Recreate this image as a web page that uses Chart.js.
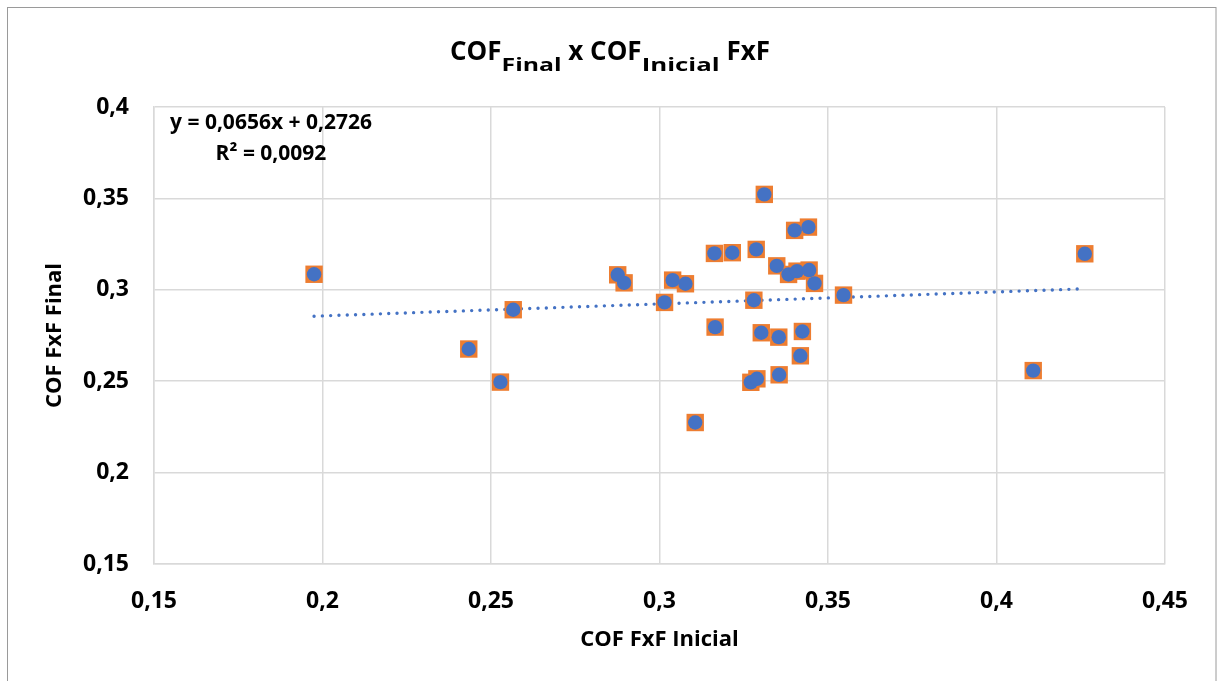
<!DOCTYPE html>
<html>
<head>
<meta charset="utf-8">
<script src="https://cdn.jsdelivr.net/npm/chart.js@4"></script>
<style>
  html, body { margin: 0; padding: 0; background: #fff; }
</style>
</head>
<body>
<canvas id="chart" width="1218" height="681"></canvas>
<script>
// valeurs (COF FxF inicial / final)
const cofInicial = [0.1975, 0.2434, 0.2528, 0.2566, 0.2876, 0.2895, 0.3015, 0.3039, 0.3077, 0.3106,
  0.3163, 0.3165, 0.3216, 0.3271, 0.3280, 0.3287, 0.3289, 0.3302, 0.3311, 0.3348,
  0.3354, 0.3355, 0.3383, 0.3401, 0.3408, 0.3418, 0.3424, 0.3442, 0.3444, 0.3460,
  0.3546, 0.4109, 0.4262];
const cofFinal = [0.3085, 0.2676, 0.2495, 0.2891, 0.3082, 0.3038, 0.2931, 0.3053, 0.3033, 0.2274,
  0.3199, 0.2796, 0.3203, 0.2494, 0.2943, 0.3221, 0.2513, 0.2765, 0.3522, 0.3131,
  0.2741, 0.2535, 0.3084, 0.3325, 0.3102, 0.2639, 0.2772, 0.3343, 0.3108, 0.3035,
  0.2971, 0.2558, 0.3197];

// courbe de tendance (équation affichée)
const trendSlope = 0.0656;
const trendIntercept = 0.2726;
const trendRange = [0.1975, 0.4262];
const equationLines = ["y = 0,0656x + 0,2726", "R² = 0,0092"];

// graduations
const xTicks = [0.15, 0.2, 0.25, 0.3, 0.35, 0.4, 0.45];
const xTickLabels = ["0,15", "0,2", "0,25", "0,3", "0,35", "0,4", "0,45"];
const yTicks = [0.15, 0.2, 0.25, 0.3, 0.35, 0.4];
const yTickLabels = ["0,15", "0,2", "0,25", "0,3", "0,35", "0,4"];

const FONT = "'Open Sans', sans-serif";
const BLUE = "#4472C4";
const ORANGE = "#ED7D31";
const GRID = "#d9d9d9";

const points = cofInicial.map((x, i) => ({ x: x, y: cofFinal[i] }));
const trendPoints = trendRange.map(x => ({ x: x, y: trendSlope * x + trendIntercept }));

// cadre + fond
const framePlugin = {
  id: "frame",
  beforeDraw(chart) {
    const ctx = chart.ctx;
    ctx.save();
    ctx.fillStyle = "#fff";
    ctx.fillRect(0, 0, chart.width, chart.height);
    ctx.strokeStyle = "#9a9a9a";
    ctx.lineWidth = 1;
    ctx.strokeRect(7.5, 7.5, 1208.5, 700);
    ctx.restore();
  }
};

// titre avec indices + équation
const textPlugin = {
  id: "texts",
  afterDraw(chart) {
    const ctx = chart.ctx;
    ctx.save();
    const main = "bold 26px " + FONT;
    const sub = "bold 18.5px " + FONT;
    // [texte, police, décalage vertical, largeur visée (indices)]
    const parts = [["COF", main, 0, 0], ["Final", sub, 11, 60], [" x COF", main, 0, 0],
                   ["Inicial", sub, 11, 78], [" FxF", main, 0, 0]];
    const widths = parts.map(p => { ctx.font = p[1]; return p[3] || ctx.measureText(p[0]).width; });
    const total = widths.reduce((a, b) => a + b, 0);
    let x = 610 - total / 2;
    ctx.fillStyle = "#000";
    ctx.textBaseline = "alphabetic";
    ctx.textAlign = "left";
    parts.forEach((p, i) => {
      ctx.font = p[1];
      if (p[3]) {
        const k = p[3] / ctx.measureText(p[0]).width;
        ctx.save();
        ctx.translate(x, 60 + p[2]);
        ctx.scale(k, 1);
        ctx.fillText(p[0], 0, 0);
        ctx.restore();
      } else {
        ctx.fillText(p[0], x, 60 + p[2]);
      }
      x += widths[i];
    });

    ctx.font = "bold 21px " + FONT;
    ctx.textAlign = "center";
    ctx.fillText(equationLines[0], 271, 129);
    ctx.fillText(equationLines[1], 271, 160);
    ctx.restore();
  }
};

new Chart(document.getElementById("chart"), {
  type: "scatter",
  data: {
    datasets: [
      {
        label: "Tendance",
        data: trendPoints,
        showLine: true,
        borderColor: BLUE,
        borderWidth: 3.4,
        borderDash: [0, 8.3],
        borderCapStyle: "round",
        pointRadius: 0,
        order: 3
      },
      {
        label: "COF carré",
        data: points,
        pointStyle: "rect",
        pointRadius: 12.3,
        backgroundColor: ORANGE,
        borderColor: ORANGE,
        borderWidth: 0,
        order: 2
      },
      {
        label: "COF",
        data: points,
        pointStyle: "circle",
        pointRadius: 7.2,
        backgroundColor: BLUE,
        borderColor: BLUE,
        borderWidth: 0,
        order: 1
      }
    ]
  },
  options: {
    responsive: false,
    animation: false,
    layout: { padding: { left: 0, right: 53, top: 107, bottom: 0 } },
    plugins: {
      legend: { display: false },
      tooltip: { enabled: false },
      title: { display: false }
    },
    scales: {
      x: {
        type: "linear",
        min: 0.15,
        max: 0.45,
        afterFit(scale) { scale.height = 117; },
        afterBuildTicks(scale) { scale.ticks = xTicks.map(v => ({ value: v })); },
        grid: { color: GRID, lineWidth: 1.5, drawTicks: false },
        border: { color: GRID, width: 1.5 },
        ticks: {
          padding: 24,
          color: "#000",
          font: { family: FONT, size: 23, weight: "bold" },
          callback: (v, i) => xTickLabels[i]
        },
        title: {
          display: true,
          text: "COF FxF Inicial",
          color: "#000",
          font: { family: FONT, size: 22, weight: "bold" },
          padding: { top: 0, bottom: 28 }
        }
      },
      y: {
        type: "linear",
        min: 0.15,
        max: 0.4,
        afterFit(scale) { scale.width = 154; },
        afterBuildTicks(scale) { scale.ticks = yTicks.map(v => ({ value: v })); },
        grid: { color: GRID, lineWidth: 1.5, drawTicks: false },
        border: { color: GRID, width: 1.5 },
        ticks: {
          padding: 25,
          color: "#000",
          font: { family: FONT, size: 23, weight: "bold" },
          callback: (v, i) => yTickLabels[i]
        },
        title: {
          display: true,
          text: "COF FxF Final",
          color: "#000",
          font: { family: FONT, size: 22, weight: "bold" },
          padding: { top: 42, bottom: 0 }
        }
      }
    }
  },
  plugins: [framePlugin, textPlugin]
});
</script>
</body>
</html>
